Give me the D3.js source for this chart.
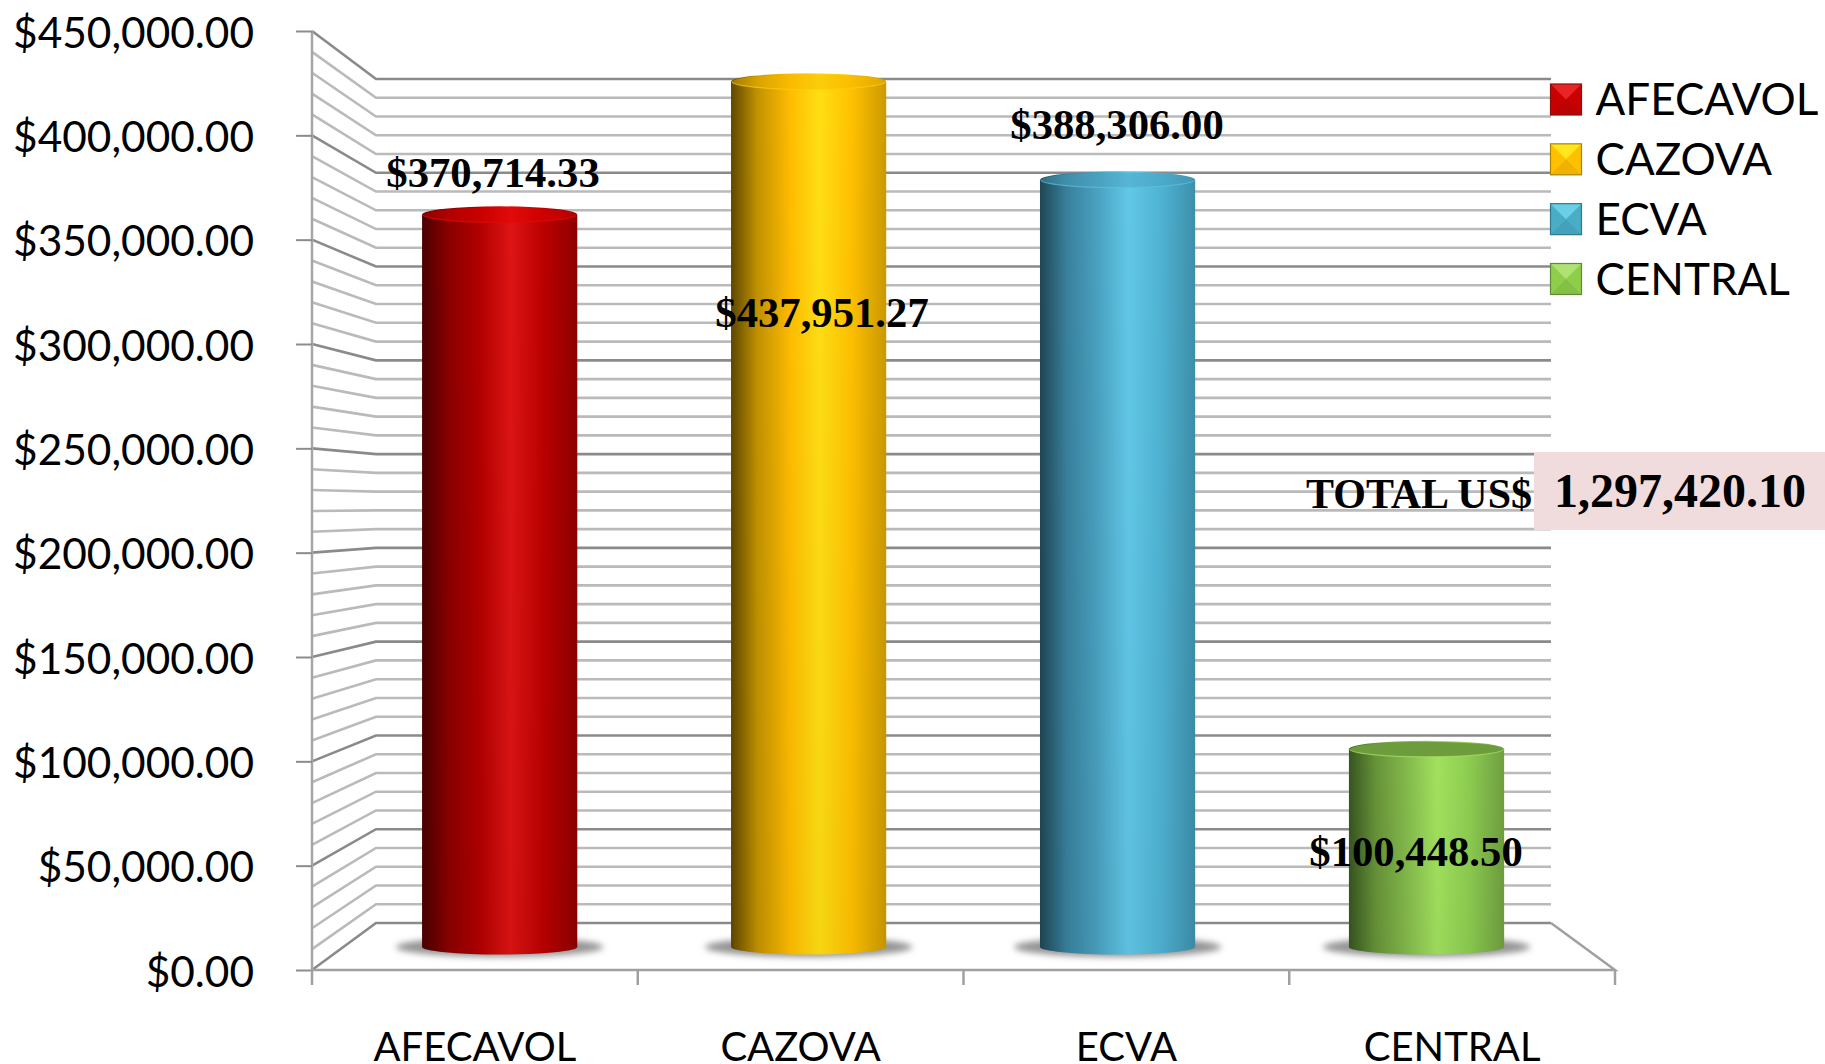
<!DOCTYPE html>
<html>
<head>
<meta charset="utf-8">
<script src="https://cdn.jsdelivr.net/npm/d3@7"></script>
<style>
    html, body { margin: 0; padding: 0; background: #fff; overflow: hidden; }
    svg { display: block; }
</style>
</head>
<body>
<div id="chart"></div>
<script>
const categories = ["AFECAVOL", "CAZOVA", "ECVA", "CENTRAL"];
const values = [370714.33, 437951.27, 388306.0, 100448.5];
const valueLabels = ["$370,714.33", "$437,951.27", "$388,306.00", "$100,448.50"];
const majorTicks = [0, 50000, 100000, 150000, 200000, 250000, 300000, 350000, 400000, 450000];
const minorTicks = d3.range(0, 450001, 10000);
const totalLabel = "TOTAL US$";
const totalValue = "1,297,420.10";

// colour stops left to right across each cylinder
const barStops = [
    ["#4a0000", "#8a0000", "#b40000", "#dd1414", "#bc0000", "#8e0000"],
    ["#5e4800", "#c29200", "#ffbc00", "#ffdf14", "#ffc000", "#cc9a00"],
    ["#1f4654", "#38809c", "#4aa3c2", "#62c8e8", "#4fb3d3", "#3d8faa"],
    ["#365520", "#669238", "#85bb4c", "#a2e25e", "#8ccc50", "#6f9f40"],
];
const barTops = ["#e40000", "#f5b800", "#4aa0bf", "#6c9c3c"];
const barRims = ["#e80808", "#ffcc10", "#60c0dc", "#a8e068"];
const legendFill = ["#c80000", "#ffc000", "#4bacc6", "#8fce4a"];
const legendLight = ["#ff3c3c", "#ffff30", "#7fe8ff", "#c4f090"];
const legendDark = ["#8a1010", "#a88400", "#2f7a90", "#5f8a36"];
const labelPos = [[493, 187], [822, 327], [1117, 139], [1416, 866]];

const width = 1825;
const height = 1064;

const frontX = 312, backX = 376, backRight = 1551, frontRight = 1615;
const frontY = d3.scaleLinear().domain([0, 450000]).range([970, 31]);
const backY = d3.scaleLinear().domain([0, 450000]).range([923, 79]);
// bars stand halfway between front edge and back wall
const barY = d3.scaleLinear().domain([0, 450000]).range([948, 58]);
const barX = d3.scaleBand().domain(categories).range([345.2, 1581]);
const frontBand = d3.scaleBand().domain(categories).range([frontX, frontRight]);

const svg = d3.select("#chart").append("svg")
    .attr("width", width)
    .attr("height", height);

const defs = svg.append("defs");
barStops.forEach((stops, i) => {
    const grad = defs.append("linearGradient").attr("id", `bar${i}`);
    const offsets = [0, 0.17, 0.38, 0.57, 0.78, 1];
    stops.forEach((c, j) => {
        grad.append("stop").attr("offset", offsets[j]).attr("stop-color", c);
    });
});
// bottom of the bars is a bit darker than the top
const shade = defs.append("linearGradient")
    .attr("id", "barShade")
    .attr("x1", 0).attr("x2", 0).attr("y1", 0).attr("y2", 1);
shade.append("stop").attr("offset", 0).attr("stop-color", "#000").attr("stop-opacity", 0);
shade.append("stop").attr("offset", 1).attr("stop-color", "#000").attr("stop-opacity", 0.04);

defs.append("filter").attr("id", "shadowBlur")
    .attr("x", "-20%").attr("y", "-60%").attr("width", "140%").attr("height", "220%")
    .append("feGaussianBlur").attr("stdDeviation", 3);
defs.append("filter").attr("id", "soft")
    .attr("filterUnits", "userSpaceOnUse")
    .attr("x", 0).attr("y", 0).attr("width", width).attr("height", height)
    .append("feGaussianBlur").attr("stdDeviation", 0.45);

// left wall and back wall grid
const grid = svg.append("g").attr("fill", "none").attr("filter", "url(#soft)");
minorTicks.forEach((v) => {
    const major = majorTicks.includes(v);
    grid.append("path")
        .attr("d", `M${frontX},${frontY(v)}L${backX},${backY(v)}L${backRight},${backY(v)}`)
        .attr("stroke", major ? "#8a8a8a" : "#bababa")
        .attr("stroke-width", 2.6);
});

// floor outline
grid.append("path")
    .attr("d", `M${backRight},${backY(0)}L${frontRight},${frontY(0)}L${frontX},${frontY(0)}`)
    .attr("stroke", "#a0a0a0")
    .attr("stroke-width", 2.5);

// y axis
grid.append("line")
    .attr("x1", frontX).attr("x2", frontX)
    .attr("y1", frontY(450000)).attr("y2", frontY(0))
    .attr("stroke", "#a6a6a6").attr("stroke-width", 2.5);

const yAxis = d3.axisLeft(frontY)
    .tickValues(majorTicks)
    .tickSize(16)
    .tickPadding(42)
    .tickFormat((d) => "$" + d3.format(",.2f")(d));
svg.append("g")
    .attr("transform", `translate(${frontX},0)`)
    .call(yAxis)
    .call((g) => g.select(".domain").remove())
    .call((g) => g.selectAll(".tick line").attr("stroke", "#8c8c8c").attr("stroke-width", 2))
    .call((g) => g.selectAll(".tick text")
        .attr("fill", "#000")
        .attr("dy", "0.38em")
        .style("font-family", "Lato")
        .style("font-size", "42.4px"));

// x axis, ticks sit between the categories
const xTicks = d3.range(categories.length + 1);
svg.append("g").selectAll("line").data(xTicks).enter().append("line")
    .attr("x1", (d) => frontX + d * frontBand.bandwidth())
    .attr("x2", (d) => frontX + d * frontBand.bandwidth())
    .attr("y1", frontY(0))
    .attr("y2", frontY(0) + 15)
    .attr("stroke", "#a0a0a0")
    .attr("stroke-width", 2.5);

svg.append("g").selectAll("text").data(categories).enter().append("text")
    .attr("x", (d) => frontBand(d) + frontBand.bandwidth() / 2)
    .attr("y", 1061)
    .attr("text-anchor", "middle")
    .style("font-family", "Lato")
    .style("font-size", "40px")
    .text((d) => d);

// cylinders
const rx = 77.6;
const topRy = 8.5;
const baseRy = 7.5;
const bars = svg.append("g").selectAll("g").data(categories).enter().append("g")
    .attr("transform", (d) => `translate(${barX(d) + barX.bandwidth() / 2},0)`);

bars.append("ellipse")
    .attr("cy", barY(0) - 1)
    .attr("rx", rx + 26)
    .attr("ry", 10)
    .attr("fill", "#949494")
    .attr("filter", "url(#shadowBlur)");

function bodyPath(d, i) {
    const top = barY(values[i]);
    const base = barY(0) - 1;
    return `M${-rx},${top}L${-rx},${base}A${rx},${baseRy} 0 0 0 ${rx},${base}L${rx},${top}A${rx},${topRy} 0 0 0 ${-rx},${top}Z`;
}

bars.append("path").attr("d", bodyPath).attr("fill", (d, i) => `url(#bar${i})`);
bars.append("path").attr("d", bodyPath).attr("fill", "url(#barShade)");

// top face, only the green one stands out from its body
bars.append("ellipse")
    .attr("cy", (d, i) => barY(values[i]))
    .attr("rx", rx - 1)
    .attr("ry", topRy - 1)
    .attr("fill", (d, i) => barTops[i])
    .attr("fill-opacity", (d, i) => (i === 3 ? 1 : 0.45));
bars.append("path")
    .attr("d", (d, i) => {
        const top = barY(values[i]);
        return `M${-rx + 1},${top}A${rx - 1},${topRy - 1} 0 0 0 ${rx - 1},${top}`;
    })
    .attr("fill", "none")
    .attr("stroke", (d, i) => barRims[i])
    .attr("stroke-opacity", 0.7)
    .attr("stroke-width", 1.2);

// value labels
svg.append("g").selectAll("text").data(valueLabels).enter().append("text")
    .attr("x", (d, i) => labelPos[i][0])
    .attr("y", (d, i) => labelPos[i][1])
    .attr("text-anchor", "middle")
    .style("font-family", "Liberation Serif")
    .style("font-weight", "bold")
    .style("font-size", "42.7px")
    .text((d) => d);

// total box
svg.append("rect")
    .attr("x", 1534).attr("y", 452)
    .attr("width", 291).attr("height", 78)
    .attr("fill", "#f0dcdc");
svg.append("text")
    .attr("x", 1532).attr("y", 508)
    .attr("text-anchor", "end")
    .style("font-family", "Liberation Serif")
    .style("font-weight", "bold")
    .style("font-size", "42px")
    .text(totalLabel);
svg.append("text")
    .attr("x", 1680).attr("y", 507)
    .attr("text-anchor", "middle")
    .style("font-family", "Liberation Serif")
    .style("font-weight", "bold")
    .style("font-size", "48px")
    .text(totalValue);

// legend
const legendY = d3.scalePoint().domain(categories).range([99.5, 279]);
const swatch = 31;
const legend = svg.append("g").selectAll("g").data(categories).enter().append("g")
    .attr("transform", (d) => `translate(1550.5,${legendY(d) - swatch / 2})`);
legend.append("rect")
    .attr("width", swatch).attr("height", swatch)
    .attr("fill", (d, i) => legendFill[i]);
legend.append("path")
    .attr("d", `M0,0L${swatch},0L${swatch / 2},${swatch / 2}Z`)
    .attr("fill", (d, i) => legendLight[i])
    .attr("fill-opacity", 0.6);
legend.append("path")
    .attr("d", `M0,${swatch}L${swatch},${swatch}L${swatch / 2},${swatch / 2}Z`)
    .attr("fill", (d, i) => legendDark[i])
    .attr("fill-opacity", 0.2);
legend.append("rect")
    .attr("width", swatch).attr("height", swatch)
    .attr("fill", "none")
    .attr("stroke", (d, i) => legendDark[i])
    .attr("stroke-width", 1.2);
legend.append("text")
    .attr("x", 45)
    .attr("y", swatch / 2 + 15.5)
    .style("font-family", "Lato")
    .style("font-size", "44px")
    .text((d) => d);
</script>
</body>
</html>
